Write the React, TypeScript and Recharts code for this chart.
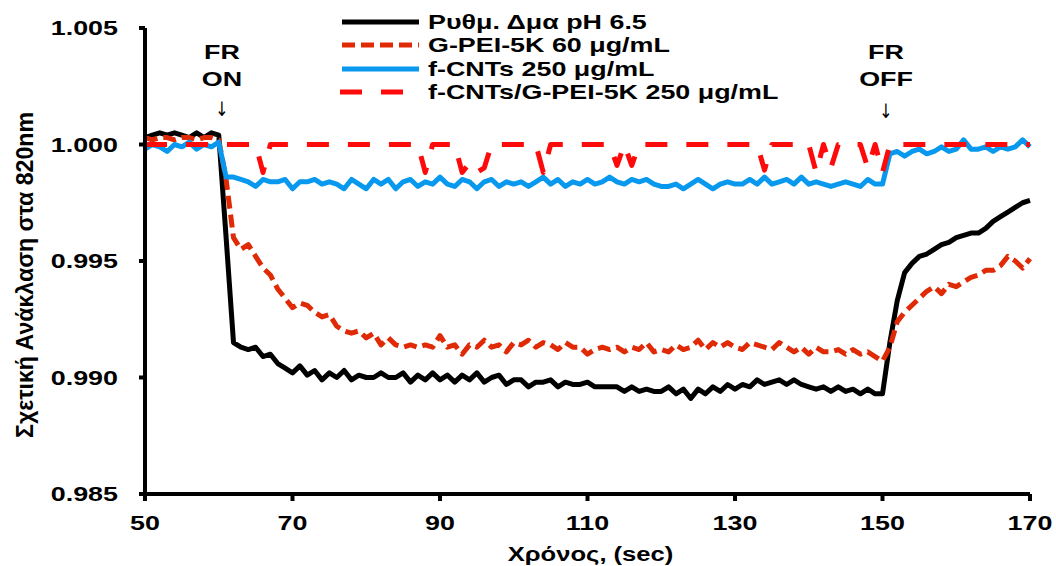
import React from "react";
import { LineChart, Line, XAxis, YAxis, Label } from "recharts";

// sampling grid: one reading per second, 50 s to 170 s
const TIME = Array.from({ length: 121 }, (_, i) => 50 + i);

// Ρυθμ. Δμα pH 6.5
const BUFFER = [
  1.0003, 1.0004, 1.0005, 1.0004, 1.0005, 1.0004, 1.0003, 1.0005, 1.0003, 1.0005,
  1.0004, 0.996, 0.9915, 0.9913, 0.9912, 0.9913, 0.9909, 0.991, 0.9906, 0.9904,
  0.9902, 0.9905, 0.9901, 0.9903, 0.9899, 0.9902, 0.99, 0.9903, 0.9899, 0.9901,
  0.99, 0.99, 0.9902, 0.99, 0.99, 0.9902, 0.9898, 0.9901, 0.9899, 0.9902,
  0.9899, 0.9901, 0.9898, 0.9901, 0.9899, 0.9902, 0.9898, 0.99, 0.9901, 0.9897,
  0.9899, 0.9899, 0.9896, 0.9898, 0.9898, 0.9899, 0.9896, 0.9898, 0.9897, 0.9897,
  0.9898, 0.9896, 0.9896, 0.9896, 0.9896, 0.9894, 0.9896, 0.9894, 0.9895, 0.9894,
  0.9894, 0.9896, 0.9893, 0.9895, 0.9891, 0.9895, 0.9893, 0.9896, 0.9894, 0.9897,
  0.9895, 0.9897, 0.9896, 0.9899, 0.9897, 0.9898, 0.9899, 0.9897, 0.9899, 0.9897,
  0.9896, 0.9895, 0.9896, 0.9894, 0.9896, 0.9894, 0.9895, 0.9893, 0.9895, 0.9893,
  0.9893, 0.9915, 0.9933, 0.9945, 0.9949, 0.9952, 0.9953, 0.9955, 0.9957, 0.9958,
  0.996, 0.9961, 0.9962, 0.9962, 0.9964, 0.9967, 0.9969, 0.9971, 0.9973, 0.9975,
  0.9976,
];

// G-PEI-5K 60 μg/mL
const GPEI = [
  1.0003, 1.0002, 1.0003, 1.0003, 1.0002, 1.0003, 1.0003, 1.0002, 1.0003, 1.0003,
  1.0002, 0.9985, 0.996, 0.9955, 0.9957, 0.9952, 0.9947, 0.9944, 0.9938, 0.9934,
  0.993, 0.9932, 0.9931, 0.9928, 0.9926, 0.9927, 0.9922, 0.992, 0.9919, 0.992,
  0.9917, 0.9919, 0.9914, 0.9917, 0.9914, 0.9913, 0.9914, 0.9913, 0.9914, 0.9913,
  0.9918, 0.9913, 0.9914, 0.991, 0.9914, 0.9913, 0.9916, 0.9913, 0.9914, 0.9911,
  0.9915, 0.9914, 0.9916, 0.9913, 0.9915, 0.9914, 0.9912, 0.9915, 0.9913, 0.9913,
  0.991, 0.9912, 0.9913, 0.9912, 0.9913, 0.9911, 0.9913, 0.9912, 0.9915, 0.9911,
  0.9912, 0.9911, 0.9914, 0.9912, 0.9913, 0.9916, 0.9912, 0.9915, 0.9913, 0.9915,
  0.9913, 0.9912, 0.9915, 0.9914, 0.9913, 0.9912, 0.9915, 0.9913, 0.9911, 0.9913,
  0.991, 0.9913, 0.9911, 0.9911, 0.9912, 0.991, 0.9912, 0.991, 0.9911, 0.9909,
  0.9907, 0.9913, 0.9924, 0.9928, 0.9931, 0.9934, 0.9937, 0.9939, 0.9936, 0.994,
  0.9939, 0.9941, 0.9943, 0.9944, 0.9946, 0.9946, 0.9948, 0.9952, 0.995, 0.9947,
  0.9951,
];

// f-CNTs 250 μg/mL
const CNT = [
  0.9998, 1.0, 0.9999, 0.9997, 1.0, 0.9999, 1.0001, 0.9998, 1.0, 0.9999,
  1.0001, 0.9986, 0.9986, 0.9985, 0.9984, 0.9982, 0.9985, 0.9984, 0.9984, 0.9985,
  0.9981, 0.9984, 0.9984, 0.9985, 0.9983, 0.9984, 0.9983, 0.9981, 0.9985, 0.9983,
  0.9981, 0.9985, 0.9983, 0.9985, 0.9981, 0.9984, 0.9985, 0.9982, 0.9984, 0.9983,
  0.9986, 0.9983, 0.9982, 0.9985, 0.9984, 0.9981, 0.9984, 0.9985, 0.9982, 0.9984,
  0.9983, 0.9984, 0.9982, 0.9984, 0.9986, 0.9983, 0.9985, 0.9982, 0.9984, 0.9983,
  0.9985, 0.9983, 0.9984, 0.9986, 0.9984, 0.9983, 0.9985, 0.9984, 0.9985, 0.9983,
  0.9982, 0.9982, 0.9983, 0.9981, 0.9983, 0.9985, 0.9983, 0.9981, 0.9983, 0.9984,
  0.9983, 0.9983, 0.9985, 0.9983, 0.9986, 0.9983, 0.9984, 0.9985, 0.9983, 0.9986,
  0.9983, 0.9984, 0.9983, 0.9982, 0.9983, 0.9984, 0.9983, 0.9982, 0.9985, 0.9983,
  0.9983, 0.9996, 0.9997, 0.9995, 0.9997, 0.9998, 0.9996, 0.9997, 0.9999, 0.9997,
  0.9998, 1.0002, 0.9998, 0.9998, 0.9999, 0.9997, 0.9999, 0.9998, 0.9999, 1.0002,
  0.9999,
];

// f-CNTs/G-PEI-5K 250 μg/mL
const CNT_GPEI = [
  1.0, 1.0, 1.0, 1.0, 1.0, 1.0, 1.0, 1.0, 1.0, 1.0,
  1.0, 1.0, 1.0, 1.0, 1.0, 1.0, 0.9988, 1.0, 1.0, 1.0,
  1.0, 1.0, 1.0, 1.0, 1.0, 1.0, 1.0, 1.0, 1.0, 1.0,
  1.0, 1.0, 1.0, 1.0, 1.0, 1.0, 1.0, 1.0, 0.9988, 1.0,
  1.0, 1.0, 1.0, 0.9988, 0.9992, 0.9988, 0.999, 1.0, 1.0, 1.0,
  1.0, 1.0, 1.0, 1.0, 0.9988, 1.0, 1.0, 1.0, 1.0, 1.0,
  1.0, 1.0, 1.0, 1.0, 0.9991, 1.0, 0.9991, 1.0, 1.0, 1.0,
  1.0, 1.0, 1.0, 1.0, 1.0, 1.0, 1.0, 1.0, 1.0, 1.0,
  1.0, 1.0, 1.0, 1.0, 0.9989, 1.0, 1.0, 1.0, 1.0, 1.0,
  1.0, 0.9988, 1.0, 0.999, 1.0, 1.0, 1.0, 1.0, 0.999, 1.0,
  0.9988, 1.0, 1.0, 1.0, 1.0, 1.0, 1.0, 1.0, 1.0, 1.0,
  1.0, 1.0, 1.0, 1.0, 1.0, 1.0, 1.0, 1.0, 1.0, 1.0,
  1.0,
];

const X_TICKS = [50, 70, 90, 110, 130, 150, 170];
const Y_TICKS = [0.985, 0.99, 0.995, 1.0, 1.005];

const SERIES = [
  { key: "buffer", name: "Ρυθμ. Δμα pH 6.5", color: "#000000", dash: undefined as string | undefined },
  { key: "gpei", name: "G-PEI-5K 60 μg/mL", color: "#e02a06", dash: "13 6" },
  { key: "cnt", name: "f-CNTs 250 μg/mL", color: "#0898ee", dash: undefined },
  { key: "cntGpei", name: "f-CNTs/G-PEI-5K 250 μg/mL", color: "#ff0a0a", dash: "22 19" },
];

const rows = TIME.map((t, i) => ({
  t,
  buffer: BUFFER[i],
  gpei: GPEI[i],
  cnt: CNT[i],
  cntGpei: CNT_GPEI[i],
}));

// the original figure is stretched sideways, so text is widened to match
const FONT = "'Liberation Sans', Arial, sans-serif";
const SX = 1.28;

function YTick({ x, y, payload }: any) {
  return (
    <text
      transform={`translate(${x},${y}) scale(${SX},1)`}
      textAnchor="end"
      dominantBaseline="central"
      fontFamily={FONT}
      fontWeight={700}
      fontSize={21}
      fill="#000"
    >
      {Number(payload.value).toFixed(3)}
    </text>
  );
}

function XTick({ x, y, payload }: any) {
  return (
    <text
      transform={`translate(${x},${y}) scale(${SX},1)`}
      textAnchor="middle"
      dy="0.71em"
      fontFamily={FONT}
      fontWeight={700}
      fontSize={21}
      fill="#000"
    >
      {payload.value}
    </text>
  );
}

function YTitle({ viewBox }: any) {
  const cx = viewBox.x + 25;
  const cy = viewBox.y + viewBox.height / 2 + 14;
  return (
    <text
      transform={`translate(${cx},${cy}) scale(${SX},1) rotate(-90)`}
      textAnchor="middle"
      dominantBaseline="central"
      fontFamily={FONT}
      fontWeight={700}
      fontSize={19}
      textLength={326}
      lengthAdjust="spacingAndGlyphs"
      fill="#000"
    >
      Σχετική Ανάκλαση στα 820nm
    </text>
  );
}

function XTitle({ viewBox }: any) {
  const cx = viewBox.x + viewBox.width / 2 + 3;
  const cy = viewBox.y + 60;
  return (
    <text
      transform={`translate(${cx},${cy}) scale(${SX},1)`}
      textAnchor="middle"
      dominantBaseline="central"
      fontFamily={FONT}
      fontWeight={700}
      fontSize={20}
      fill="#000"
    >
      Χρόνος, (sec)
    </text>
  );
}

function Overlay() {
  const rowsY = [22, 45, 69, 92];
  const txt = (
    x: number,
    y: number,
    s: string,
    size = 21,
    weight = 700,
    sx = SX,
    family = FONT
  ) => (
    <text
      key={s + x + y}
      transform={`translate(${x},${y}) scale(${sx},1)`}
      textAnchor="middle"
      dominantBaseline="central"
      fontFamily={family}
      fontWeight={weight}
      fontSize={size}
      fill="#000"
    >
      {s}
    </text>
  );
  return (
    <svg
      width={1056}
      height={566}
      style={{ position: "absolute", left: 0, top: 0, pointerEvents: "none" }}
    >
      {SERIES.map((s, i) => (
        <g key={s.key}>
          <line
            x1={s.dash === "22 19" ? 340 : 342}
            x2={s.dash === "22 19" ? 404 : 419}
            y1={rowsY[i]}
            y2={rowsY[i]}
            stroke={s.color}
            strokeWidth={5}
            strokeDasharray={s.dash}
          />
          <text
            transform={`translate(428,${rowsY[i]}) scale(${SX},1)`}
            dominantBaseline="central"
            fontFamily={FONT}
            fontWeight={700}
            fontSize={21}
            fill="#000"
          >
            {s.name}
          </text>
        </g>
      ))}
      {txt(222, 52, "FR")}
      {txt(222, 79, "ON")}
      {txt(222, 109, "↓", 20, 400, 0.8, "'DejaVu Sans'")}
      {txt(886, 52, "FR")}
      {txt(886, 79, "OFF")}
      {txt(886, 111, "↓", 20, 400, 0.8, "'DejaVu Sans'")}
    </svg>
  );
}

export default function App() {
  return (
    <div
      style={{
        position: "absolute",
        left: 0,
        top: 0,
        width: 1056,
        height: 566,
        background: "#fff",
      }}
    >
      <LineChart
        width={1056}
        height={566}
        data={rows}
        margin={{ top: 28, right: 26, bottom: 22, left: 0 }}
      >
        <XAxis
          dataKey="t"
          type="number"
          domain={[50, 170]}
          ticks={X_TICKS}
          height={50}
          axisLine={{ stroke: "#000", strokeWidth: 4 }}
          tickLine={{ stroke: "#000", strokeWidth: 4 }}
          tickSize={7}
          tickMargin={14}
          tick={<XTick />}
        >
          <Label content={<XTitle />} />
        </XAxis>
        <YAxis
          type="number"
          domain={[0.985, 1.005]}
          ticks={Y_TICKS}
          width={145}
          allowDataOverflow
          axisLine={{ stroke: "#000", strokeWidth: 4 }}
          tickLine={{ stroke: "#000", strokeWidth: 4 }}
          tickSize={6}
          tickMargin={21}
          tick={<YTick />}
        >
          <Label content={<YTitle />} />
        </YAxis>
        {SERIES.map((s) => (
          <Line
            key={s.key}
            dataKey={s.key}
            name={s.name}
            type="linear"
            stroke={s.color}
            strokeWidth={5}
            strokeDasharray={s.dash}
            strokeLinejoin="round"
            dot={false}
            activeDot={false}
            isAnimationActive={false}
          />
        ))}
      </LineChart>
      <Overlay />
    </div>
  );
}
